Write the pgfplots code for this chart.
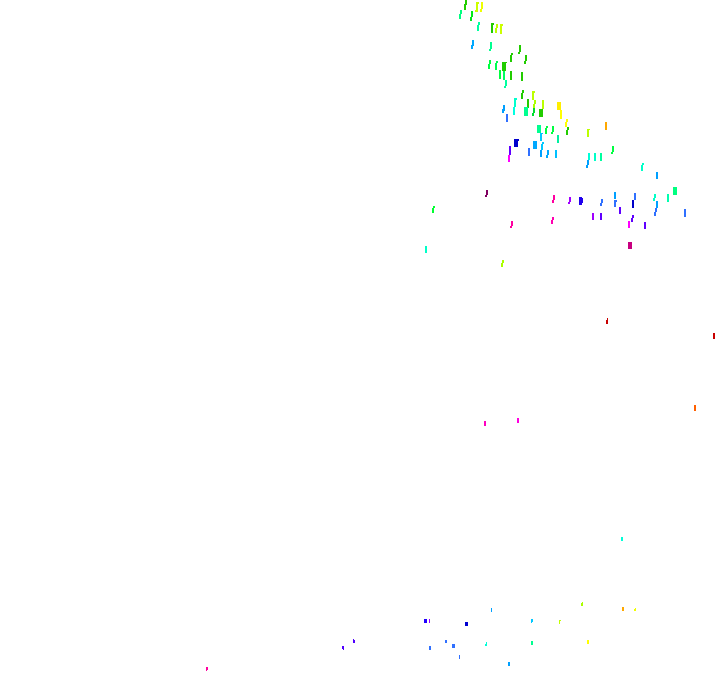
\documentclass[border=0pt]{standalone}
\usepackage{pgfplots}
\pgfplotsset{compat=1.18}

% x,y = top left corner of each tick, in image pixels; w,h its size
\pgfdeclareplotmark{tick}{%
  \pgfpathrectangle{\pgfpointorigin}{\pgfqpoint{\pw pt}{-\ph pt}}%
  \pgfusepathqfill
}

\begin{document}
\begin{tikzpicture}
\useasboundingbox (0,0) rectangle (720pt,692pt);
\begin{axis}[
    scale only axis,
    width=720pt,
    height=692pt,
    xmin=0, xmax=720,
    ymin=0, ymax=692,
    y dir=reverse,
    hide axis,
    clip=false,
]
\addplot[
    scatter,
    only marks,
    mark=tick,
    scatter src=x,
    visualization depends on={\thisrow{w} \as \pw},
    visualization depends on={\thisrow{h} \as \ph},
    visualization depends on={value \thisrow{c} \as \pc},
    scatter/@pre marker code/.code={\definecolor{pc}{HTML}{\pc}\scope[fill=pc,draw=none]},
    scatter/@post marker code/.code={\endscope},
] table {
x y w h c
465 0 2 5 22CC00
464 4 2 6 22CC00
476 2 3 2 CCFF00
476 4 2 6 CCFF00
475 10 3 2 CCFF00
481 2 2 7 EEFF00
480 9 2 3 EEFF00
460 10 2 4 00FF80
459 14 2 5 00FF80
471 11 2 6 00E81A
470 17 2 4 00E81A
478 22 2 3 00FFA0
477 25 2 6 00FFA0
491 23 3 2 22CC00
491 25 2 8 22CC00
496 24 2 4 BBFF00
495 28 2 5 BBFF00
500 24 3 2 CCFF00
500 26 2 8 CCFF00
472 40 2 6 00A8FF
471 45 2 4 00A8FF
490 42 2 7 00FF90
489 49 2 2 00FF90
519 45 2 7 22CC00
518 52 2 2 22CC00
511 53 2 2 22CC00
510 55 2 7 22CC00
525 55 2 6 22CC00
524 61 2 3 22CC00
489 60 2 4 00FF40
488 64 2 5 00FF40
496 61 2 2 00FF50
495 63 2 7 00FF50
502 62 4 9 22CC00
506 62 1 1 22CC00
499 70 2 9 00FF40
503 71 2 9 00FF60
510 71 2 9 22CC00
521 72 2 9 22CC00
505 80 2 6 00FFA0
504 86 2 2 00FFA0
522 90 2 3 22CC00
521 93 2 6 22CC00
532 91 3 2 BBFF00
532 93 2 7 BBFF00
514 98 3 2 00FFCC
514 100 2 7 00FFCC
513 107 2 8 00FFE0
527 99 2 9 22CC00
534 100 2 4 AAFF00
533 104 2 5 AAFF00
542 100 2 9 BBFF00
557 102 4 8 FFEE00
560 110 2 9 FFFF00
524 107 4 9 00FF90
533 108 2 5 00DD30
532 113 2 3 00DD30
539 109 4 8 22CC00
503 105 2 6 00A0FF
502 109 2 4 00A0FF
506 114 2 8 3070FF
566 119 2 3 FFFF00
565 122 2 5 FFFF00
537 125 4 8 00FF90
546 126 2 2 00FF40
545 128 2 6 00FF40
552 126 2 6 00FF40
551 132 2 2 00FF40
567 127 2 3 22CC00
566 130 2 5 22CC00
605 122 2 8 FFA800
587 129 2 8 BBFF00
589 129 1 1 BBFF00
540 133 2 8 00C8FF
542 133 1 1 00C8FF
557 135 2 8 00F0A0
514 139 4 8 0000CC
518 139 1 2 0000CC
533 141 4 8 00A8FF
542 142 2 2 00C8FF
541 144 2 6 00C8FF
540 150 2 7 00A0FF
528 148 2 8 3070FF
547 150 2 5 00A8FF
546 155 2 3 00A8FF
555 150 2 8 00C0FF
509 146 2 9 6000FF
508 155 2 7 FF00FF
612 146 2 6 00FF40
611 152 2 2 00FF40
588 153 2 7 00FFD8
587 160 2 5 00A0FF
586 165 2 3 00A0FF
594 153 2 8 00FFC8
600 153 2 8 00FFA0
642 163 2 2 00FFC8
641 165 2 6 00FFC8
656 172 2 7 00A0FF
486 190 2 5 800060
485 195 2 2 800060
433 206 2 2 00FF30
432 208 2 5 00FF30
553 195 2 5 FF00A0
552 200 2 3 FF00A0
569 197 2 5 A000FF
568 202 2 2 A000FF
579 197 3 8 2000EE
582 198 1 5 2000EE
601 199 2 4 3070FF
600 203 2 3 3070FF
614 192 2 7 00A0FF
614 200 2 7 3070FF
616 200 1 2 3070FF
634 193 2 7 3070FF
632 200 2 8 0000C8
654 194 2 4 00FFC8
653 198 2 3 00FFC8
656 201 2 7 00A0FF
655 208 2 4 3070FF
654 212 2 4 3070FF
667 194 2 8 00FFB0
673 187 4 8 00FF80
684 209 2 8 3070FF
619 207 2 7 6000FF
592 213 2 7 A000FF
600 213 2 7 6000FF
632 215 2 3 6000FF
631 218 2 4 6000FF
628 221 2 7 FF00FF
644 222 2 7 6000FF
552 217 2 3 FF00B0
551 220 2 4 FF00B0
511 221 2 5 FF00A0
510 226 2 2 FF00A0
628 242 4 7 C80080
425 246 2 7 00FFC8
502 260 2 3 AAFF00
501 263 2 4 AAFF00
607 318 1 2 C80000
606 320 2 4 C80000
713 333 2 6 C80000
694 405 2 6 FF6000
484 421 2 5 FF00C0
517 418 2 5 FF00E0
621 537 2 4 00FFD8
206 667 2 3 FF00A0
206 670 1 1 FF00A0
342 646 2 3 5000FF
343 649 1 1 5000FF
353 639 1 1 5000FF
353 640 2 3 5000FF
424 619 3 4 2000FF
429 619 1 4 A000FF
429 646 2 4 3070FF
465 622 3 4 0000D0
445 640 2 3 3070FF
452 644 3 4 3070FF
459 655 1 4 3070FF
491 608 1 4 00A0FF
531 619 2 3 00C8FF
531 622 1 1 00C8FF
559 620 2 1 C0FF00
559 621 1 3 C0FF00
582 602 1 1 AAFF00
581 603 2 3 AAFF00
622 607 2 4 FFA800
635 608 1 1 F0FF00
634 609 2 2 F0FF00
486 642 1 2 00FFD8
485 644 2 2 00FFD8
531 641 2 4 00FF90
587 640 2 4 FFFF00
508 662 2 4 00A0FF
};
\end{axis}
\end{tikzpicture}
\end{document}
